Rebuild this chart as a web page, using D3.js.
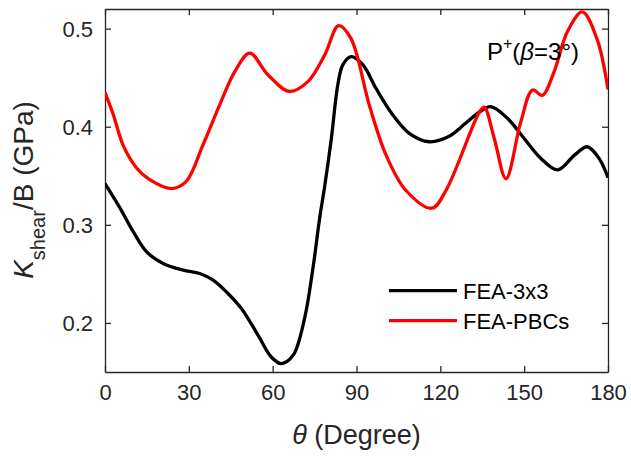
<!DOCTYPE html>
<html>
<head>
<meta charset="utf-8">
<script src="https://cdn.jsdelivr.net/npm/d3@7"></script>
<style>
  html, body { margin: 0; padding: 0; background: #fff; }
  svg { display: block; font-family: Arial, "Liberation Sans", sans-serif; }
</style>
</head>
<body>
<svg id="chart" width="631" height="457"></svg>
<script>
// ---- data ----
const blackTheta = [0, 5.4, 10.1, 14.9, 20.8, 28, 33.9, 38.7, 44, 48.8, 54.8, 59.5, 63.1, 67.3, 71.4, 74.4, 76.8, 78.6, 81, 83.3, 85.1, 88.1, 92.3, 97, 103, 109, 116, 123, 129, 134, 138, 144, 150, 156, 162, 168, 172.6, 176.8, 180];
const blackValues = [0.342, 0.317, 0.293, 0.2725, 0.2606, 0.2538, 0.2504, 0.2436, 0.230, 0.2147, 0.1874, 0.1653, 0.1586, 0.167, 0.2045, 0.2555, 0.3065, 0.339, 0.388, 0.4426, 0.463, 0.4714, 0.463, 0.439, 0.412, 0.393, 0.3847, 0.39, 0.4035, 0.415, 0.4204, 0.4086, 0.388, 0.3677, 0.356, 0.371, 0.3796, 0.3677, 0.348];
const redTheta = [0, 3, 6.5, 11.3, 16, 23.8, 29, 35, 41, 46.4, 51.8, 58.3, 66, 72.6, 78.6, 83.6, 88, 94.6, 100.6, 107.7, 117, 122, 134, 135.7, 139.3, 143.5, 148.8, 153, 156.5, 160.7, 165.5, 170.8, 176, 180];
const redValues = [0.435, 0.412, 0.381, 0.358, 0.346, 0.337, 0.344, 0.381, 0.422, 0.456, 0.475, 0.453, 0.436, 0.446, 0.473, 0.503, 0.490, 0.422, 0.371, 0.335, 0.317, 0.335, 0.415, 0.420, 0.388, 0.347, 0.405, 0.4375, 0.432, 0.456, 0.497, 0.517, 0.490, 0.438];
const xTicks = [0, 30, 60, 90, 120, 150, 180];
const yTicks = [0.2, 0.3, 0.4, 0.5];
const seriesNames = ["FEA-3x3", "FEA-PBCs"];
const seriesColors = ["#000000", "#ff0000"];

// ---- layout ----
const svg = d3.select("#chart");
const L = 105, R = 608, T = 9, B = 372;
const x = d3.scaleLinear().domain([0, 180]).range([L, R]);
const y = d3.scaleLinear().domain([0.15, 0.52]).range([B, T]);
const axisColor = "#262626";

svg.append("defs").append("clipPath").attr("id", "clip")
  .append("rect").attr("x", L).attr("y", T).attr("width", R - L).attr("height", B - T);

const series = [
  { name: seriesNames[0], color: seriesColors[0], pts: blackTheta.map((t, i) => [t, blackValues[i]]) },
  { name: seriesNames[1], color: seriesColors[1], pts: redTheta.map((t, i) => [t, redValues[i]]) }
];

const line = d3.line().x(d => x(d[0])).y(d => y(d[1])).curve(d3.curveCatmullRom.alpha(0.5));

// axes (box with inward ticks)
const tickLen = 6;
const fmtY = d3.format(".1f");
const gB = svg.append("g").attr("transform", `translate(0,${B})`)
  .call(d3.axisBottom(x).tickValues(xTicks).tickSizeInner(-tickLen).tickSizeOuter(0).tickPadding(12));
const gT = svg.append("g").attr("transform", `translate(0,${T})`)
  .call(d3.axisTop(x).tickValues(xTicks).tickSizeInner(-tickLen).tickSizeOuter(0).tickFormat(""));
const gL = svg.append("g").attr("transform", `translate(${L},0)`)
  .call(d3.axisLeft(y).tickValues(yTicks).tickFormat(fmtY).tickSizeInner(-tickLen).tickSizeOuter(0).tickPadding(12));
const gR = svg.append("g").attr("transform", `translate(${R},0)`)
  .call(d3.axisRight(y).tickValues(yTicks).tickSizeInner(-tickLen).tickSizeOuter(0).tickFormat(""));
[gB, gT, gL, gR].forEach(g => {
  g.select(".domain").attr("stroke", axisColor).attr("stroke-width", 1.3);
  g.selectAll(".tick line").attr("stroke", axisColor).attr("stroke-width", 1.3);
  g.selectAll(".tick text").attr("fill", axisColor).attr("font-size", 22)
    .attr("font-family", "Arial, 'Liberation Sans', sans-serif");
});
gB.selectAll(".tick text").attr("dy", "0.71em");
gL.selectAll(".tick text").attr("dy", "0.36em");

// data lines
const plot = svg.append("g").attr("clip-path", "url(#clip)");
series.forEach(s => {
  plot.append("path").datum(s.pts)
    .attr("fill", "none").attr("stroke", s.color).attr("stroke-width", 3.3)
    .attr("stroke-linejoin", "round").attr("d", line);
});

// x label
const xl = svg.append("text").attr("x", x(90)).attr("y", 444).attr("text-anchor", "middle")
  .attr("font-size", 27).attr("fill", axisColor);
xl.append("tspan").attr("font-style", "italic").text("θ");
xl.append("tspan").text(" (Degree)");

// y label
const yl = svg.append("text").attr("transform", "translate(33,190) rotate(-90)")
  .attr("text-anchor", "middle").attr("font-size", 28).attr("fill", axisColor);
yl.append("tspan").attr("font-style", "italic").text("K");
yl.append("tspan").attr("font-size", 20).attr("dy", 12).text("shear");
yl.append("tspan").attr("dy", -12).text("/B (GPa)");

// annotation
const an = svg.append("text").attr("x", 487).attr("y", 60).attr("font-size", 24).attr("fill", "#000");
an.append("tspan").text("P");
an.append("tspan").attr("font-size", 16).attr("dy", -11).text("+");
an.append("tspan").attr("dy", 11).text("(");
an.append("tspan").attr("font-style", "italic").text("β");
an.append("tspan").text("=3°)");

// legend
const legY = [290.7, 320.7];
series.forEach((s, i) => {
  svg.append("line").attr("x1", 389).attr("x2", 457).attr("y1", legY[i]).attr("y2", legY[i])
    .attr("stroke", s.color).attr("stroke-width", 3.3);
  svg.append("text").attr("x", 463).attr("y", legY[i]).attr("dy", "0.36em")
    .attr("font-size", 22).attr("fill", "#000").text(s.name);
});
</script>
</body>
</html>
